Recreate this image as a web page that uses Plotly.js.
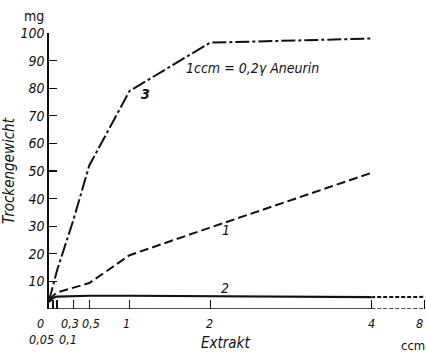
<!DOCTYPE html>
<html><head><meta charset="utf-8">
<script src="https://cdn.plot.ly/plotly-3.0.1.min.js"></script>
<style>html,body{margin:0;padding:0;background:#fff}#chart{width:426px;height:352px}</style>
</head><body><div id="chart"></div>
<script>
// Data (x in ccm Extrakt, y in mg Trockengewicht)
const x3 = [0, 0.1, 0.3, 0.5, 1, 2, 4];
const y3 = [3, 14, 32, 52, 79, 96.5, 98];
const x1 = [0, 0.1, 0.5, 1, 2, 4];
const y1 = [3.5, 6, 9.4, 19.5, 29.5, 49.3];
const x2 = [0, 0.05, 0.1, 0.5, 1, 2, 4];
const y2 = [2.5, 4, 4.5, 4.8, 4.8, 4.7, 4.3];
const x2b = [4, 8];
const y2b = [4.3, 4.4];
const xTicks = [0, 0.05, 0.1, 0.3, 0.5, 1, 2, 4, 8];
const xTickLabels = ['0', '0,05', '0,1', '0,3', '0,5', '1', '2', '4', '8'];
const yTicks = [10, 20, 30, 40, 50, 60, 70, 80, 90, 100];
const curveNames = ['3', '1', '2'];

// broken axis: linear up to 4, compressed beyond
function xp(v) { return v <= 4 ? v : 4 + (v - 4) * 0.165; }
const F = 'DejaVu Sans Condensed, Liberation Sans Narrow, DejaVu Sans';
const fi = (s) => ({family: F, size: s, color: '#111', style: 'italic'});

const traces = [
  {x: x3.map(xp), y: y3, mode: 'lines', line: {color: '#111', width: 2, dash: '14px,3px,3px,3px'}, cliponaxis: false},
  {x: x1.map(xp), y: y1, mode: 'lines', line: {color: '#111', width: 2, dash: '9px,4px'}, cliponaxis: false},
  {x: x2.map(xp), y: y2, mode: 'lines', line: {color: '#111', width: 2.2}, cliponaxis: false},
  {x: x2b.map(xp), y: y2b, mode: 'lines', line: {color: '#111', width: 2, dash: '4px,2px'}, cliponaxis: false}
];

// tick label placement (label offsets in px: [xshift, row])
const labelShift = [[-9, 1], [-12, 2], [11, 2], [-3, 1], [2, 1], [-3, 1], [-1, 1], [0, 1], [-5, 1]];
const annotations = xTickLabels.map((t, i) => ({
  text: t, x: xp(xTicks[i]), y: 0, xref: 'x', yref: 'y',
  xshift: labelShift[i][0], yshift: labelShift[i][1] === 1 ? -14 : -30,
  showarrow: false, font: fi(12.5)
}));
annotations.push(
  {text: 'Extrakt', x: 225, y: 343, xref: 'paper', yref: 'paper', showarrow: false, font: fi(15)},
  {text: 'ccm', x: 413, y: 345, showarrow: false, font: {family: F, size: 13, color: '#111'}},
  {text: 'mg', x: 34, y: 16, showarrow: false, font: {family: F, size: 14, color: '#111'}},
  {text: curveNames[0], x: 1.2, y: 78, xref: 'x', yref: 'y', showarrow: false, font: {family: F, size: 14, color: '#111', style: 'italic', weight: 'bold'}},
  {text: curveNames[1], x: 2.2, y: 28.5, xref: 'x', yref: 'y', showarrow: false, font: fi(14)},
  {text: curveNames[2], x: 2.18, y: 7.7, xref: 'x', yref: 'y', showarrow: false, font: fi(14)},
  {text: '1ccm = 0,2γ Aneurin', x: 2.52, y: 87.5, xref: 'x', yref: 'y', showarrow: false, font: fi(14)}
);
// convert pixel-placed labels to paper coords
const W = 426, H = 352, L = 49, R = 0, T = 33, B = 43;
annotations.forEach(a => {
  if (a.xref === undefined) { a.xref = 'paper'; a.yref = 'paper'; }
  if (a.xref === 'paper' && a.x > 1) {
    a.x = (a.x - L) / (W - L - R);
    a.y = 1 - (a.y - T) / (H - T - B);
    a.xanchor = 'center'; a.yanchor = 'middle';
  }
});

const layout = {
  width: W, height: H,
  margin: {l: L, r: R, t: T, b: B},
  paper_bgcolor: '#fff', plot_bgcolor: '#fff',
  showlegend: false,
  xaxis: {
    range: [0, xp(8) + 0.02], tickvals: xTicks.map(xp), ticktext: xTicks.map(() => ''),
    ticks: 'inside', ticklen: 9, tickwidth: 1.2, tickcolor: '#111',
    showline: false, showgrid: false, zeroline: false,
    tickfont: fi(14), fixedrange: true
  },
  yaxis: {
    range: [0, 100], tickvals: yTicks, ticktext: yTicks.map(String),
    ticks: 'inside', ticklen: 8, tickwidth: 1.2, tickcolor: '#111',
    showline: true, linecolor: '#111', linewidth: 1.6,
    showgrid: false, zeroline: false, tickfont: fi(14),
    title: {text: 'Trockengewicht', font: fi(15), standoff: 4}
  },
  shapes: [
    {type: 'line', xref: 'x', yref: 'y', x0: 0, x1: 4, y0: 0, y1: 0, line: {color: '#111', width: 1.6}},
    {type: 'line', xref: 'x', yref: 'y', x0: 4, x1: xp(8), y0: 0, y1: 0, line: {color: '#111', width: 1.4, dash: '4px,2px'}}
  ],
  annotations: annotations
};
Plotly.newPlot('chart', traces, layout, {displayModeBar: false, staticPlot: true});
</script></body></html>
